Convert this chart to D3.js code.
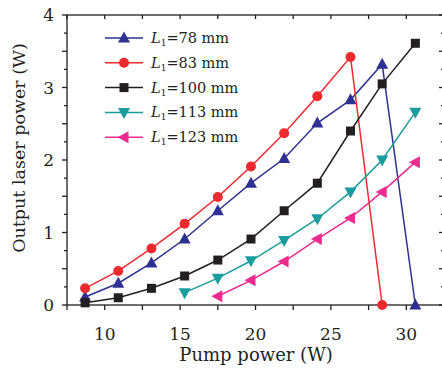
<!DOCTYPE html>
<html>
<head>
<meta charset="utf-8">
<script src="https://cdn.jsdelivr.net/npm/d3@7"></script>
<style>
body { margin: 0; background: #fff; }
text { font-family: "DejaVu Serif", "Liberation Serif", serif; fill: #231f20; }
</style>
</head>
<body>
<div id="chart"></div>
<script>
var width = 442;
var height = 368;

// pump power (W) for every measurement step
var pump = [8.7, 10.9, 13.1, 15.3, 17.5, 19.7, 21.9, 24.1, 26.3, 28.4, 30.6];

// output power (W) for each cavity length L1
var out78  = [0.11, 0.30, 0.58, 0.91, 1.30, 1.68, 2.02, 2.51, 2.83, 3.32, 0];
var out83  = [0.23, 0.47, 0.78, 1.12, 1.49, 1.91, 2.37, 2.88, 3.42, 0];
var out100 = [0.03, 0.10, 0.23, 0.40, 0.62, 0.91, 1.30, 1.68, 2.40, 3.05, 3.61];
var out113 = [0.17, 0.37, 0.61, 0.89, 1.19, 1.56, 2.00, 2.66];
var out123 = [0.12, 0.34, 0.60, 0.91, 1.20, 1.56, 1.97];

var labels = ["78 mm", "83 mm", "100 mm", "113 mm", "123 mm"];
var colors = ["#2e3192", "#ee2a2e", "#231f20", "#1b9c9e", "#ec2a8f"];
var shapes = ["up", "circle", "square", "down", "left"];

// pump value where each series starts
var series = [
	{ x: pump.slice(0, 11), y: out78 },
	{ x: pump.slice(0, 10), y: out83 },
	{ x: pump.slice(0, 11), y: out100 },
	{ x: pump.slice(3, 11), y: out113 },
	{ x: pump.slice(4, 11), y: out123 }
];

var xTicks = [10, 15, 20, 25, 30];
var yTicks = [0, 1, 2, 3, 4];

var svg = d3.select("#chart").append("svg")
	.attr("width", width)
	.attr("height", height);

var x = d3.scaleLinear().domain([7.5, 32.5]).range([67, 444]);
var y = d3.scaleLinear().domain([0, 4]).range([305, 15]);

// marker drawing
function marker(g, shape, color) {
	if (shape == "circle") {
		g.append("circle").attr("r", 5).attr("fill", color);
	} else if (shape == "square") {
		g.append("rect").attr("x", -4.5).attr("y", -4.5).attr("width", 9).attr("height", 9).attr("fill", color);
	} else {
		var pts;
		if (shape == "up") pts = "0,-6.5 6,4.5 -6,4.5";
		if (shape == "down") pts = "0,6.5 6,-4.5 -6,-4.5";
		if (shape == "left") pts = "-6.5,0 4.5,-6 4.5,6";
		g.append("polygon").attr("points", pts).attr("fill", color);
	}
}

// Frame and ticks
var frame = svg.append("g").attr("stroke", "#231f20").attr("stroke-width", 1.3).attr("fill", "none");
frame.append("rect").attr("x", 67).attr("y", 15).attr("width", 377).attr("height", 290);

var xt = d3.range(7.5, 32.6, 2.5);
xt.forEach(function(v) {
	frame.append("line").attr("x1", x(v)).attr("x2", x(v)).attr("y1", 305).attr("y2", 310);
	frame.append("line").attr("x1", x(v)).attr("x2", x(v)).attr("y1", 15).attr("y2", 19);
});
var yt = d3.range(0, 4.01, 0.25);
yt.forEach(function(v) {
	var len = (v % 0.5 == 0) ? 5 : 3;
	frame.append("line").attr("x1", 67 - len).attr("x2", 67).attr("y1", y(v)).attr("y2", y(v));
	frame.append("line").attr("x1", 444 - len).attr("x2", 444).attr("y1", y(v)).attr("y2", y(v));
});

svg.selectAll(".xlab").data(xTicks).enter().append("text")
	.attr("x", function(d) { return x(d); })
	.attr("y", 340)
	.attr("text-anchor", "middle")
	.attr("font-size", 17)
	.text(function(d) { return d; });

svg.selectAll(".ylab").data(yTicks).enter().append("text")
	.attr("x", 54)
	.attr("y", function(d) { return y(d) + 6; })
	.attr("text-anchor", "end")
	.attr("font-size", 17)
	.text(function(d) { return d; });

svg.append("text").attr("x", 256).attr("y", 361)
	.attr("text-anchor", "middle").attr("font-size", 18)
	.text("Pump power (W)");

svg.append("text")
	.attr("transform", "translate(25,148) rotate(-90)")
	.attr("text-anchor", "middle").attr("font-size", 17.5)
	.text("Output laser power (W)");

// Lines and markers
var line = d3.line().x(function(d) { return x(d[0]); }).y(function(d) { return y(d[1]); });

series.forEach(function(s, i) {
	var pts = d3.zip(s.x, s.y);
	svg.append("path").attr("d", line(pts))
		.attr("fill", "none").attr("stroke", colors[i]).attr("stroke-width", 1.5);
	pts.forEach(function(p) {
		var g = svg.append("g").attr("transform", "translate(" + x(p[0]) + "," + y(p[1]) + ")");
		marker(g, shapes[i], colors[i]);
	});
});

// Legend
var legend = svg.append("g");
labels.forEach(function(lab, i) {
	var ly = 38 + i * 24.8;
	legend.append("line").attr("x1", 105).attr("x2", 143).attr("y1", ly).attr("y2", ly)
		.attr("stroke", colors[i]).attr("stroke-width", 1.5);
	var g = legend.append("g").attr("transform", "translate(124," + ly + ")");
	marker(g, shapes[i], colors[i]);
	var t = legend.append("text").attr("x", 151).attr("y", ly + 5).attr("font-size", 14.5);
	t.append("tspan").attr("font-style", "italic").text("L");
	t.append("tspan").attr("font-size", 9).attr("dy", 3).text("1");
	t.append("tspan").attr("dy", -3).text("=" + lab);
});
</script>
</body>
</html>
